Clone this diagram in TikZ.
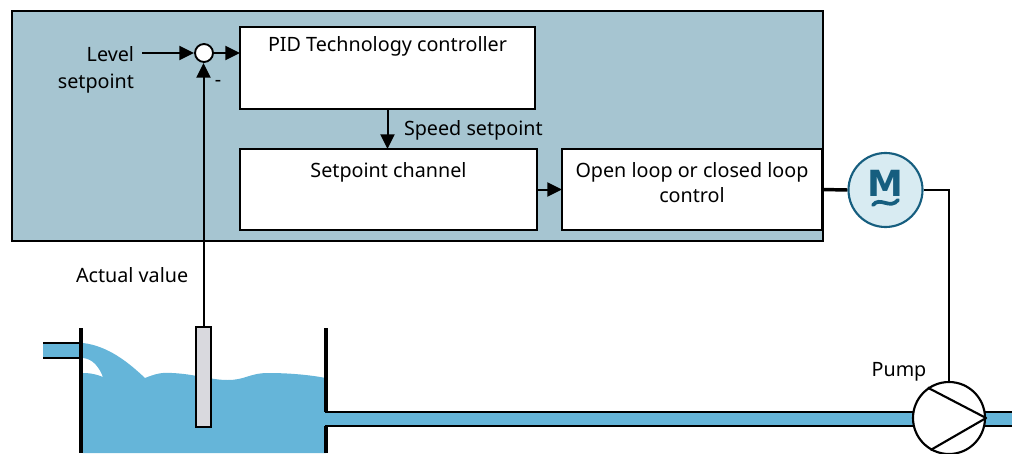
\documentclass[tikz,border=0pt]{standalone}
\usepackage{fontspec}
\setmainfont{Noto Sans}
\newfontfamily\motorfont{DejaVu Sans}
\usetikzlibrary{arrows.meta}
\definecolor{panel}{RGB}{166,197,209}
\definecolor{water}{RGB}{101,181,217}
\definecolor{motorfill}{RGB}{216,235,242}
\definecolor{motorline}{RGB}{22,94,127}
\definecolor{probe}{RGB}{217,217,222}
\begin{document}
\begin{tikzpicture}[x=0.75pt,y=-0.75pt,
  txt/.style={font=\fontsize{14.8}{20}\selectfont, inner sep=0pt, outer sep=0pt},
  blk/.style={draw, fill=white, line width=1.4pt, inner sep=0pt, outer sep=0pt},
  arr/.style={line width=1.5pt, -{Triangle[length=11pt,width=10.5pt]}},
  wire/.style={line width=1.5pt},
  pipeline/.style={line width=1.7pt},
  wall/.style={line width=3pt}]
\useasboundingbox (0,0) rectangle (1012,453);

% drive panel
\fill[panel, draw=black, line width=1.4pt] (12,11) rectangle (823,241);

% function blocks
\node[blk, minimum width=221.25pt, minimum height=61.5pt] (pid) at (387.5,68) {};
\node[blk, minimum width=222.75pt, minimum height=60.75pt] (sp) at (388.5,189.5) {};
\node[blk, minimum width=195pt, minimum height=60.75pt] (ol) at (692,189.5) {};
\node[txt, anchor=north] (pidtxt) at ([yshift=-7.5pt]pid.north) {PID Technology controller};
\node[txt, anchor=north] (sptxt) at ([yshift=-10.5pt]sp.north) {Setpoint channel};
\node[txt, anchor=north, align=center, font=\fontsize{14.8}{18.75}\selectfont] (oltxt) at ([yshift=-10.5pt]ol.north) {Open loop or closed loop\\control};

% summing point
\node[circle, draw, fill=white, line width=1.4pt, minimum size=13.5pt, inner sep=0pt] (sum) at (204,53) {};
\node[txt, anchor=east, align=right] (lvl) at (134,70) {Level\\setpoint};
\coordinate (lvlin) at (142,53);
\node[txt] (minus) at (218,83) {-};
\draw[arr] (lvlin) -- (sum.west);
\draw[arr] (sum.east) -- (sum.east -| pid.west);
\draw[arr] (pid.south) -- (pid.south |- sp.north);
\node[txt, anchor=west] (spd) at (404,130) {Speed setpoint};
\draw[arr] (sp.east) -- (ol.west);

% motor
\node[circle, draw=motorline, fill=motorfill, line width=1.6pt, minimum size=55.5pt, inner sep=0pt] (motor) at (885.5,190) {};
\node[font=\motorfont\bfseries\fontsize{27}{27}\selectfont, text=motorline, inner sep=0pt] (mlet) at (885.5,183) {M};
\draw[motorline, line width=2.8pt, line cap=round] (873,205) .. controls (880,196) and (890,210) .. (898,200);
\draw[line width=2.6pt] (ol.east) -- (motor.west);

% tank, water and inlet
\fill[water] (43,343) rectangle (81,358);
\draw[pipeline] (43,343) -- (81,343) (43,358) -- (81,358);
\fill[water] (83,343) .. controls (108,346) and (128,362) .. (145,378)
  .. controls (155,374) and (162,372) .. (172,373)
  .. controls (195,374) and (210,380) .. (228,380)
  .. controls (245,380) and (250,373) .. (268,373)
  .. controls (290,373) and (310,375) .. (326,378)
  -- (326,453) -- (83,453) -- (83,373)
  .. controls (92,373) and (98,375) .. (103,377)
  .. controls (99,367) and (93,359) .. (83,358) -- cycle;
\draw[wall] (81,328) -- (81,453);
\draw[wall] (326,328) -- (326,412) (326,426) -- (326,453);

% outlet pipe
\fill[water] (326,412) rectangle (1012,426);
\draw[pipeline] (325,412) -- (1012,412) (325,426) -- (1012,426);

% level probe
\node[draw, fill=probe, line width=1.4pt, minimum width=11.25pt, minimum height=75pt, inner sep=0pt] (sensor) at (203.5,377) {};
\draw[arr] (sensor.north) -- (sensor.north |- sum.south);
\node[txt, anchor=west] (act) at (76,275) {Actual value};

% pump
\node[circle, draw, fill=white, line width=1.6pt, minimum size=54pt, inner sep=0pt] (pump) at (949,418) {};
\draw[line width=1.6pt, line join=round] (pump.125) -- (pump.east) -- (pump.-120);
\draw[wire] (motor.east) -| (pump.north);
\node[txt] (pumptxt) at (899,372) {Pump};
\end{tikzpicture}
\end{document}
